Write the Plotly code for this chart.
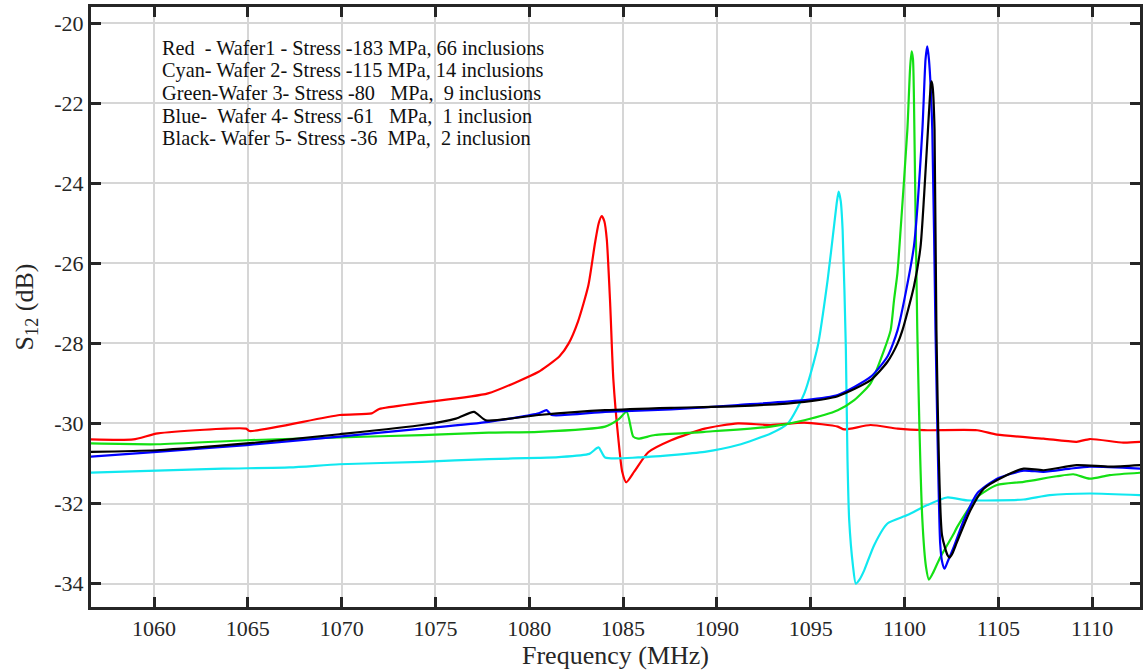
import plotly.graph_objects as go

# ---------------- data ----------------
red_f = [1056.6, 1058.9, 1060.2, 1064.9, 1065.1, 1069.9, 1071.6, 1072.0, 1074.3, 1077.8,
         1080.5, 1081.0, 1081.6, 1082.1, 1082.6, 1083.15, 1083.5, 1083.7, 1083.86, 1084.0,
         1084.13, 1084.31, 1084.48, 1084.75, 1084.95, 1085.17, 1085.6, 1086.34, 1087.56,
         1089.35, 1091.12, 1092.87, 1094.66, 1096.44, 1096.79, 1098.19, 1099.63, 1101.04,
         1103.87, 1104.93, 1107.41, 1109.18, 1109.87, 1111.66, 1112.6]
red_s = [-30.40, -30.40, -30.25, -30.13, -30.19, -29.79, -29.75, -29.64, -29.48, -29.25,
         -28.71, -28.55, -28.33, -28.0, -27.45, -26.55, -25.50, -25.0, -24.82, -24.95,
         -25.40, -27.0, -28.9, -30.4, -31.2, -31.47, -31.2, -30.72, -30.42,
         -30.13, -30.00, -30.04, -29.98, -30.08, -30.15, -30.04, -30.13, -30.17,
         -30.17, -30.28, -30.38, -30.46, -30.39, -30.48, -30.46]

cyan_f = [1056.6, 1060.14, 1063.66, 1067.22, 1069.88, 1074.29, 1077.84, 1080.5, 1081.56,
          1083.2, 1083.69, 1084.04, 1085.8, 1089.35, 1091.12, 1092.87, 1093.78, 1094.66,
          1095.37, 1095.9, 1096.26, 1096.4, 1096.49, 1096.6, 1096.7, 1096.87, 1096.96,
          1097.05, 1097.25, 1097.4, 1097.6, 1097.85, 1098.38, 1099.09, 1100.15, 1101.21,
          1102.27, 1103.33, 1104.93, 1106.35, 1107.74, 1109.87, 1112.6]
cyan_s = [-31.23, -31.18, -31.13, -31.10, -31.02, -30.96, -30.89, -30.86, -30.84,
          -30.76, -30.60, -30.85, -30.85, -30.71, -30.54, -30.25, -30.00, -29.25,
          -28.08, -26.42, -25.00, -24.45, -24.21, -24.45, -25.17, -28.08, -30.92,
          -32.41, -33.55, -34.00, -33.90, -33.67, -33.04, -32.50, -32.29, -32.04,
          -31.85, -31.92, -31.92, -31.90, -31.79, -31.75, -31.79]

green_f = [1056.6, 1060.16, 1064.94, 1069.88, 1074.29, 1077.84, 1080.5, 1084.04, 1084.75,
           1085.19, 1085.54, 1085.8, 1086.7, 1089.35, 1092.87, 1094.66, 1096.44, 1097.32,
           1098.19, 1098.91, 1099.26, 1099.44, 1099.62, 1099.79, 1100.15, 1100.3, 1100.38,
           1100.45, 1100.5, 1100.68, 1100.95, 1101.15, 1101.3, 1101.5, 1101.92, 1102.63,
           1102.8, 1103.87, 1104.93, 1106.35, 1108.12, 1109.0, 1109.87, 1110.93, 1112.6]
green_s = [-30.50, -30.52, -30.42, -30.35, -30.29, -30.23, -30.21, -30.08, -29.90,
           -29.71, -30.33, -30.38, -30.29, -30.21, -30.08, -29.92, -29.67, -29.42,
           -29.00, -28.17, -27.67, -26.92, -26.25, -25.17, -22.67, -21.10, -20.71,
           -20.90, -21.83, -27.67, -32.41, -33.60, -33.90, -33.75, -33.33, -32.75,
           -32.59, -31.84, -31.54, -31.46, -31.32, -31.27, -31.38, -31.29, -31.23]

blue_f = [1056.6, 1060.16, 1064.94, 1069.88, 1074.29, 1077.84, 1080.5, 1080.92, 1081.19,
          1084.04, 1087.56, 1091.12, 1094.66, 1096.44, 1098.19, 1099.09, 1099.63, 1100.5,
          1100.95, 1101.12, 1101.21, 1101.3, 1101.48, 1101.65, 1101.9, 1102.0, 1102.13,
          1102.3, 1102.63, 1103.16, 1103.87, 1104.93, 1106.35, 1107.41, 1108.82, 1109.87,
          1112.6]
blue_s = [-30.83, -30.71, -30.54, -30.33, -30.13, -29.96, -29.75, -29.67, -29.79,
          -29.71, -29.65, -29.54, -29.42, -29.29, -28.84, -28.33, -27.67, -25.58,
          -22.67, -20.90, -20.58, -20.90, -22.67, -27.67, -33.00, -33.45, -33.63,
          -33.45, -33.08, -32.42, -31.75, -31.38, -31.18, -31.21, -31.13, -31.08,
          -31.13]

black_f = [1056.6, 1060.16, 1064.94, 1069.88, 1074.29, 1076.09, 1077.05, 1077.68, 1080.5,
           1084.04, 1087.56, 1091.12, 1094.66, 1096.44, 1098.19, 1099.09, 1099.63, 1099.89,
           1100.5, 1100.85, 1101.04, 1101.3, 1101.4, 1101.44, 1101.5, 1101.6, 1101.7,
           1102.0, 1102.3, 1102.41, 1102.55, 1102.8, 1103.51, 1104.22, 1105.28, 1106.35,
           1107.41, 1109.18, 1110.93, 1112.6]
black_s = [-30.71, -30.67, -30.50, -30.27, -30.04, -29.88, -29.71, -29.92, -29.79,
           -29.67, -29.61, -29.57, -29.46, -29.32, -28.92, -28.46, -28.00, -27.67,
           -26.58, -25.60, -24.33, -22.25, -21.55, -21.46, -21.60, -22.67, -27.67,
           -32.80, -33.30, -33.35, -33.25, -32.96, -32.17, -31.63, -31.33, -31.13,
           -31.17, -31.04, -31.08, -31.04]

x_ticks = [1060, 1065, 1070, 1075, 1080, 1085, 1090, 1095, 1100, 1105, 1110]
y_ticks = [-34, -32, -30, -28, -26, -24, -22, -20]
y_ticklabels = ["-34", "-32", "-30", "-28", "-26", "-24", "-22", "-20"]

legend_lines = [
    "Red\u00a0 - Wafer1 - Stress -183 MPa, 66 inclusions",
    "Cyan- Wafer 2- Stress -115 MPa, 14 inclusions",
    "Green-Wafer 3- Stress -80 \u00a0 MPa, \u00a09 inclusions",
    "Blue- \u00a0Wafer 4- Stress -61 \u00a0 MPa, \u00a01 inclusion",
    "Black- Wafer 5- Stress -36 \u00a0MPa, \u00a02 inclusion",
]

series = [
    (red_f, red_s, "#ff0000"),
    (cyan_f, cyan_s, "#10e8f0"),
    (green_f, green_s, "#14e014"),
    (blue_f, blue_s, "#0000ff"),
    (black_f, black_s, "#000000"),
]

FONT = "Liberation Serif, Times New Roman, serif"
AX = "#262626"

fig = go.Figure()
for f, s, c in series:
    fig.add_trace(go.Scatter(x=f, y=s, mode="lines",
                             line=dict(color=c, width=2.2, shape="spline", smoothing=0.6),
                             showlegend=False))

for i, t in enumerate(legend_lines):
    fig.add_annotation(text=t, xref="paper", yref="paper",
                       x=(160 - 91) / 1052, y=1 - (48 + i * 22.5 - 7) / 600,
                       xanchor="left", yanchor="middle", showarrow=False,
                       font=dict(family=FONT, size=20.3, color="#111111"))

fig.update_layout(
    width=1143, height=670,
    margin=dict(l=91, r=0, t=7, b=63),
    paper_bgcolor="white", plot_bgcolor="white",
    font=dict(family=FONT, color=AX),
)
fig.update_xaxes(
    range=[1056.64, 1112.55], tickvals=x_ticks,
    showgrid=True, gridcolor="#d6d6d6", gridwidth=2,
    showline=True, linecolor=AX, linewidth=3, mirror="ticks",
    ticks="inside", ticklen=10, tickwidth=2.5, tickcolor=AX,
    tickfont=dict(family=FONT, size=22, color=AX),
    title=dict(text="Frequency (MHz)", font=dict(family=FONT, size=26, color=AX), standoff=2),
    zeroline=False,
)
fig.update_yaxes(
    range=[-34.585, -19.6], tickvals=y_ticks, ticktext=y_ticklabels,
    showgrid=True, gridcolor="#d6d6d6", gridwidth=2,
    showline=True, linecolor=AX, linewidth=3, mirror="ticks",
    ticks="inside", ticklen=10, tickwidth=2.5, tickcolor=AX,
    tickfont=dict(family=FONT, size=22, color=AX),
    title=dict(text="S<sub>12</sub> (dB)", font=dict(family=FONT, size=26, color=AX), standoff=14),
    zeroline=False,
)

fig.write_html("out.html")
